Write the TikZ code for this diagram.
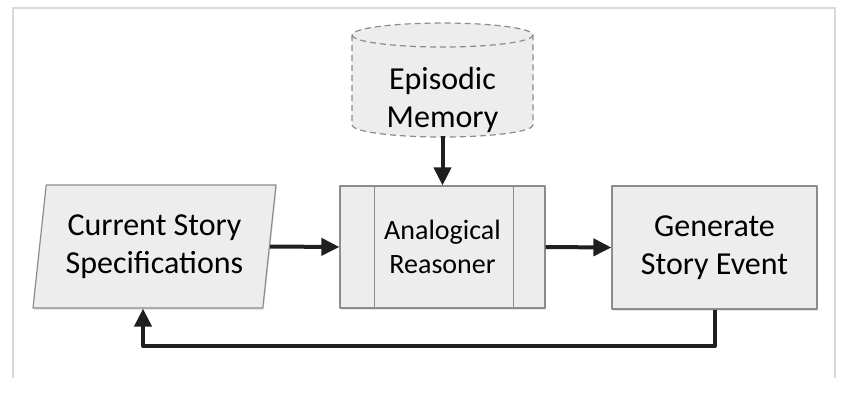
\documentclass[tikz,border=0pt]{standalone}
\usepackage{fontspec}
\setmainfont{Carlito}
\usetikzlibrary{shapes.geometric,arrows.meta,shadows}
\begin{document}
\begin{tikzpicture}[x=1pt,y=-1pt,line join=round,
	>={Triangle[length=18pt,width=17pt]},
	box/.style={draw=black!45,line width=1.2pt,fill=black!7,align=center,
		drop shadow={opacity=0.2,shadow xshift=1pt,shadow yshift=-2pt}},
	flow/.style={->,line width=4pt,draw=black!88},
	big/.style={font=\fontsize{32}{38}\selectfont}]
	\useasboundingbox (0,0) rectangle (846,410);
	\def\cx{442.5} \def\rx{90.5} \def\ry{12} % tru
	% khung
	\draw[black!15,line width=1.5pt] (13,378) -- (13,8) -- (835,8) -- (835,378);
	% bo nho
	\draw[draw=black!45,fill=black!7,line width=1.2pt,dash pattern=on 6pt off 4pt]
		(\cx-\rx,35) -- (\cx-\rx,125) arc[start angle=180,end angle=0,x radius=\rx,y radius=\ry]
		-- (\cx+\rx,35) arc[start angle=0,end angle=-180,x radius=\rx,y radius=\ry] -- cycle;
	\draw[draw=black!45,line width=1.2pt,dash pattern=on 6pt off 4pt]
		(\cx-\rx,35) arc[start angle=180,end angle=0,x radius=\rx,y radius=\ry];
	\node[big,align=center] (em) at (\cx,100) {Episodic\\Memory};
	\coordinate (embot) at (\cx,136);
	% cac khoi
	\node[box,big,trapezium,trapezium left angle=79.4,trapezium right angle=100.6,
		trapezium stretches body,minimum width=243pt,minimum height=123pt] (css) at (154.5,246.5) {Current Story\\Specifications};
	\node[box,minimum width=205pt,minimum height=122pt,font=\fontsize{28}{34}\selectfont] (ar) at (442.5,247) {Analogical\\Reasoner};
	\draw[black!45,line width=1.2pt] ([xshift=35pt]ar.north west) -- ([xshift=35pt]ar.south west);
	\draw[black!45,line width=1.2pt] ([xshift=-32pt]ar.north east) -- ([xshift=-32pt]ar.south east);
	\node[box,big,minimum width=205pt,minimum height=123pt] (gse) at (714.5,247.5) {Generate\\Story Event};
	% mui ten
	\coordinate (loop) at (143,346);
	\draw[flow] (embot) -- (ar.north);
	\draw[flow] (css.east) -- (ar.west);
	\draw[flow] (ar.east) -- (gse.west);
	\draw[flow] (gse.south) |- (loop) -- (loop |- css.south);
\end{tikzpicture}
\end{document}
